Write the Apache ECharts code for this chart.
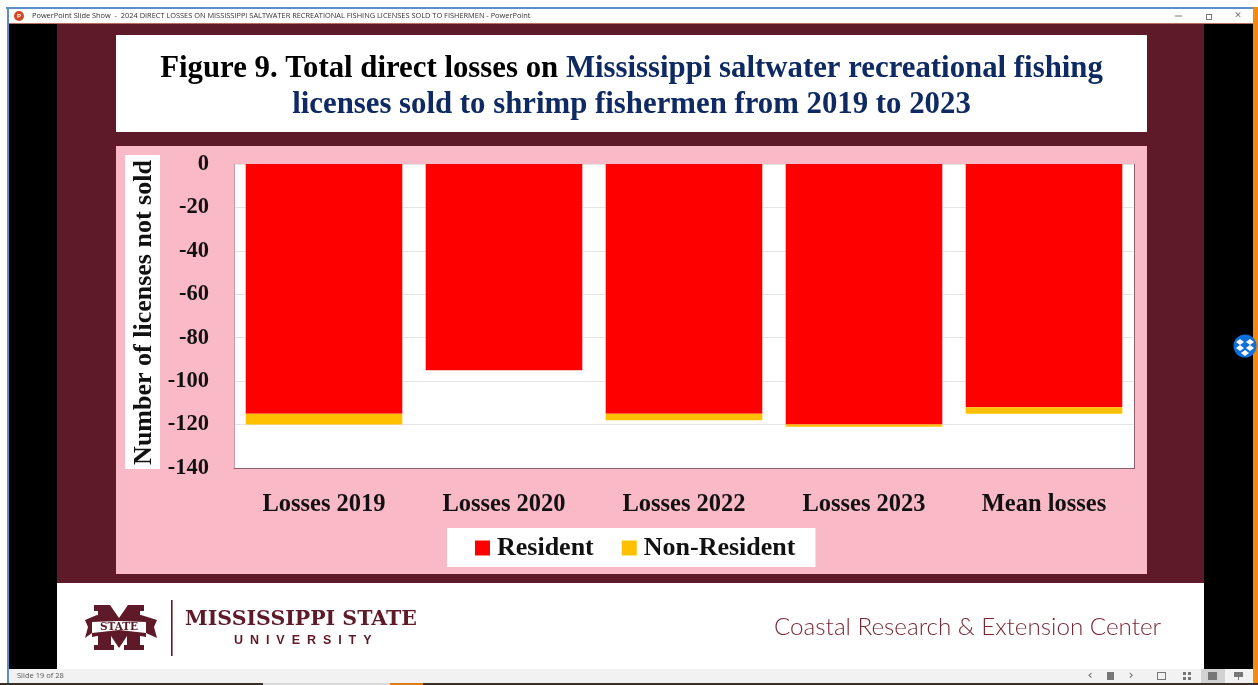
<!DOCTYPE html>
<html><head><meta charset="utf-8">
<style>html,body{margin:0;padding:0;background:#fff}#c{width:1258px;height:685px}</style>
<script src="https://cdn.jsdelivr.net/npm/echarts@6/dist/echarts.min.js"></script>
</head><body><div id="c"></div>
<script>
const categories = ['Losses 2019','Losses 2020','Losses 2022','Losses 2023','Mean losses'];
const resident = [-115,-95,-115,-120,-112];
const nonResident = [-5,0,-3,-1,-3];

const MAROON='#5e1a28', PINK='#f9b9c6', SERIF='"Liberation Serif",serif';
const rect=(x,y,w,h,fill,z)=>({type:'rect',shape:{x,y,width:w,height:h},style:{fill},z:z===undefined?-5:z,silent:true});
const text=(x,y,t,font,fill,align,z)=>({type:'text',x,y,style:{text:t,font,fill,align:align||'left',verticalAlign:'middle'},z:z===undefined?1:z,silent:true});
const poly=(pts,fill,z)=>({type:'polygon',shape:{points:pts},style:{fill},z:z===undefined?1:z,silent:true});

const chrome=[
  rect(0,0,1258,685,'#ffffff',-9),
  rect(6,7,1247,2,'#5b8fc9',-8),
  rect(7,7,2,678,'#5b8fc9',-8),
  rect(9,23,1244,1,'#b5705f',-8),
  rect(1253,7,5,678,'#f58a0b',-8),
  rect(9,24,48,645,'#000000',-8),
  rect(1204,24,49,645,'#000000',-8),
  rect(57,24,1147,559,MAROON,-8),
  rect(57,583,1147,86,'#ffffff',-8),
  rect(9,669,1244,14,'#f2f2f2',-8),
  rect(0,683,1258,2,'#3a2f28',-8),
  rect(263,683,127,2,'#d9d9d9',-7),
  rect(390,683,33,2,'#e07b1a',-7),
  rect(116,35,1031,97,'#ffffff',-7),
  rect(116,146,1031,428,PINK,-7),
  rect(125,155,35,314,'#ffffff',-6),
  rect(1134,164,1,305,'#8f5f6b',1),
  // title bar
  {type:'circle',shape:{cx:19,cy:16,r:5},style:{fill:'#d24726'},z:1,silent:true},
  text(19,16,'P','bold 6px "Liberation Sans"','#ffffff','center',2),
  text(32,16,'PowerPoint Slide Show  -  2024 DIRECT LOSSES ON MISSISSIPPI SALTWATER RECREATIONAL FISHING LICENSES SOLD TO FISHERMEN - PowerPoint','7.4px "Open Sans"','#333333'),
  rect(1175,15.5,7,1,'#777777',1),
  rect(1206,14,6,6,'#777777',1),rect(1207,15,4,4,'#ffffff',2),
  text(1238,16,'✕','9px "DejaVu Sans"','#777777','center'),
  // status bar
  text(17,676,'Slide 19 of 28','7.5px "Open Sans"','#555555'),
  text(1090,676,'‹','13px "DejaVu Sans"','#666666','center'),
  rect(1107,672,7,8,'#777777',1),
  text(1131,676,'›','13px "DejaVu Sans"','#666666','center'),
  rect(1157,672,9,8,'#777777',1),rect(1158,673,7,6,'#f2f2f2',2),
  rect(1183,672,3,3,'#777777',1),rect(1188,672,3,3,'#777777',1),rect(1183,677,3,3,'#777777',1),rect(1188,677,3,3,'#777777',1),
  rect(1201,669,24,14,'#d2d2d2',0),
  rect(1208,672,9,8,'#777777',1),
  rect(1234,672,9,5,'#777777',1),rect(1238,677,1,3,'#777777',1),
  // dropbox badge
  {type:'circle',shape:{cx:1245,cy:346,r:11.5},style:{fill:'#0f6fdc'},z:1,silent:true},
  poly([[1240,339],[1244,342],[1240,345],[1236,342]],'#fff',2),
  poly([[1250,339],[1254,342],[1250,345],[1246,342]],'#fff',2),
  poly([[1240,345],[1244,348],[1240,351],[1236,348]],'#fff',2),
  poly([[1250,345],[1254,348],[1250,351],[1246,348]],'#fff',2),
  poly([[1245,350],[1249,353],[1245,356],[1241,353]],'#fff',2),
  // logo
  poly([[94,605],[110,605],[119,618],[128,605],[144,605],[144,611],[140,611],[140,645],[144,645],[144,650],[124,650],[124,645],[127,645],[127,636],[119,648],[111,636],[111,645],[114,645],[114,650],[94,650],[94,645],[98,645],[98,611],[94,611]],MAROON,1),
  poly([[85,620],[97,615],[119,619],[141,615],[157,620],[154,627],[157,638],[146,633],[146,637],[119,632],[92,637],[92,633],[85,638],[88,627]],MAROON,2),
  poly([[92,622],[119,621],[146,622],[146,633],[119,630],[92,633]],'#ffffff',3),
  text(119,627,'STATE','bold 10.5px "DejaVu Serif"',MAROON,'center',4),
  rect(171,600,1.6,56,MAROON,1),
  text(185,620,'MISSISSIPPI STATE','bold 20.5px "DejaVu Serif"',MAROON),
  text(234,640.5,'U  N  I  V  E  R  S  I  T  Y','bold 12.5px "Liberation Sans"',MAROON),
  text(774,627,'Coastal Research & Extension Center','300 24.2px Lato','#7a2733')
];

const option={
  animation:false,
  title:{
    left:626.5,top:46,textAlign:'center',
    text:'{a|Figure 9. Total direct losses on }{b|Mississippi saltwater recreational fishing}\n{b|licenses sold to shrimp fishermen from 2019 to 2023}',
    textStyle:{rich:{
      a:{fontFamily:SERIF,fontWeight:'bold',fontSize:30.8,color:'#000000',lineHeight:36},
      b:{fontFamily:SERIF,fontWeight:'bold',fontSize:30.8,color:'#0f2a63',lineHeight:36}
    }}
  },
  grid:{left:234,top:164,width:900,height:304,show:true,backgroundColor:'#ffffff',borderWidth:0},
  legend:{
    left:447,top:528,backgroundColor:'#ffffff',padding:[7,20,6,28],
    itemWidth:15,itemHeight:15,itemGap:28,icon:'rect',
    textStyle:{fontFamily:SERIF,fontWeight:'bold',fontSize:26,color:'#111111',padding:[0,0,0,2]},
    data:['Resident','Non-Resident']
  },
  xAxis:{type:'category',data:categories,position:'bottom',
    axisLine:{show:true,onZero:false,lineStyle:{color:'#8f5f6b'}},axisTick:{show:false},
    axisLabel:{margin:24,fontFamily:SERIF,fontWeight:'bold',fontSize:24.5,color:'#111111'}},
  yAxis:{type:'value',min:-140,max:0,interval:20,
    name:'Number of licenses not sold',nameLocation:'middle',nameRotate:90,nameGap:68,
    nameTextStyle:{fontFamily:SERIF,fontWeight:'bold',fontSize:26,color:'#111111',padding:[0,0,0,7]},
    axisLine:{show:true,lineStyle:{color:'#c79aa6'}},axisTick:{show:false},
    axisLabel:{margin:25,fontFamily:SERIF,fontWeight:'bold',fontSize:22.5,color:'#111111'},
    splitLine:{show:true,lineStyle:{color:'#e6e6e6',width:1}}},
  series:[
    {name:'Resident',type:'bar',stack:'t',data:resident,barCategoryGap:'13%',itemStyle:{color:'#ff0000'}},
    {name:'Non-Resident',type:'bar',stack:'t',data:nonResident,itemStyle:{color:'#ffc000'}}
  ],
  graphic:{elements:chrome}
};
echarts.init(document.getElementById('c'),null,{renderer:'canvas'}).setOption(option);
</script></body></html>
